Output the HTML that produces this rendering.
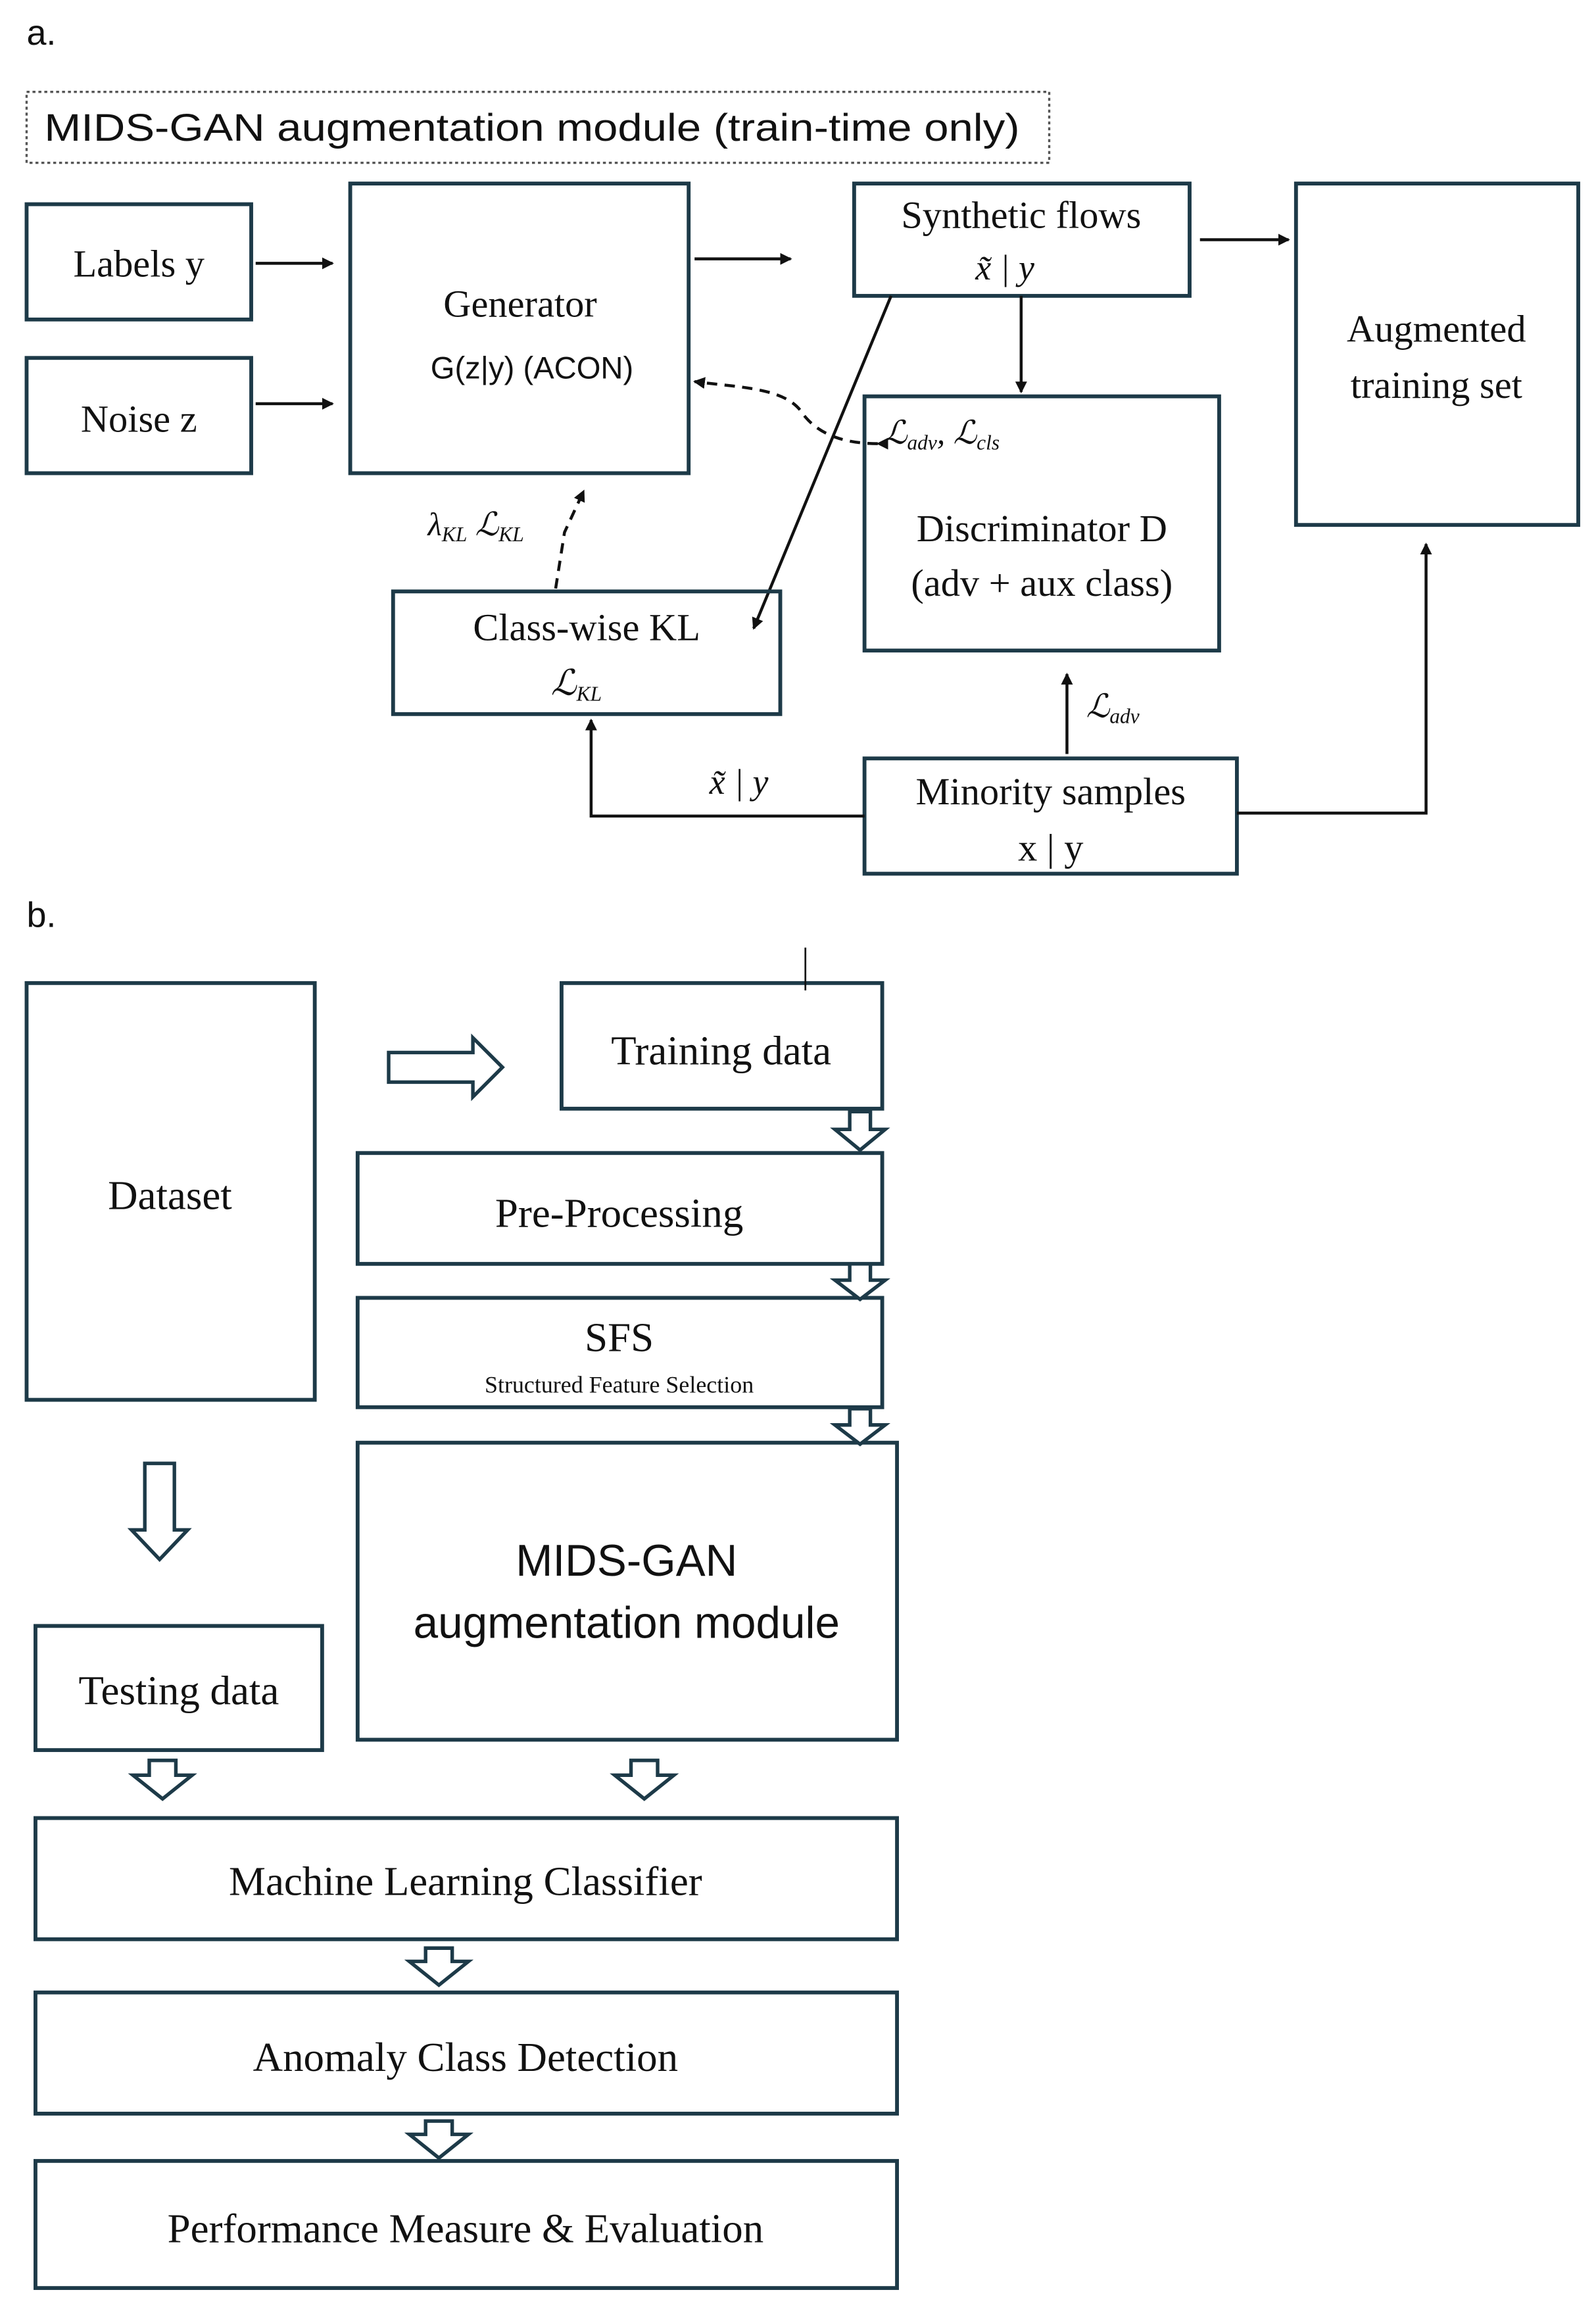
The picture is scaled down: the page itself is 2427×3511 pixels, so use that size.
<!DOCTYPE html>
<html><head><meta charset="utf-8"><style>
html,body{margin:0;padding:0;background:#fff;}
svg{display:block;}
.b{fill:none;stroke:#1d3a48;stroke-width:2.6;}
.s{font-family:"Liberation Serif",serif;fill:#111;text-anchor:middle;}
.st{font-family:"Liberation Serif",serif;fill:#111;text-anchor:start;}
.a{font-family:"Liberation Sans",sans-serif;fill:#111;}
.l{stroke:#111;stroke-width:2;fill:none;}
.h{fill:#fff;stroke:#1d3a48;stroke-width:2.4;}
</style></head><body>
<svg width="2427" height="3511" viewBox="0 0 1080 1562" xmlns="http://www.w3.org/2000/svg">
<defs><marker id="ar" markerWidth="8" markerHeight="8" refX="7" refY="4" orient="auto" markerUnits="userSpaceOnUse"><path d="M0,0 L8,4 L0,8 z" fill="#111"/></marker></defs>
<text x="18" y="30" class="a" font-size="24">a.</text>
<rect x="18" y="62" width="692" height="48" fill="none" stroke="#555" stroke-width="1.5" stroke-dasharray="2,2"/>
<text x="30" y="95" class="a" font-size="26" textLength="660" lengthAdjust="spacingAndGlyphs">MIDS-GAN augmentation module (train-time only)</text>
<rect x="18" y="138" width="152" height="78" class="b"/><text x="94" y="187" class="s" font-size="26">Labels y</text>
<rect x="18" y="242" width="152" height="78" class="b"/><text x="94" y="292" class="s" font-size="26">Noise z</text>
<rect x="237" y="124" width="229" height="196" class="b"/>
<text x="352" y="214" class="s" font-size="26">Generator</text>
<text x="360" y="256" class="a" font-size="21" text-anchor="middle">G(z|y) (ACON)</text>
<line x1="173" y1="178" x2="225" y2="178" class="l" marker-end="url(#ar)"/>
<line x1="173" y1="273" x2="225" y2="273" class="l" marker-end="url(#ar)"/>
<line x1="470" y1="175" x2="535" y2="175" class="l" marker-end="url(#ar)"/>
<rect x="578" y="124" width="227" height="76" class="b"/>
<text x="691" y="154" class="s" font-size="26">Synthetic flows</text>
<text x="680" y="189" class="s" font-size="24" font-style="italic">x̃ | y</text>
<line x1="812" y1="162" x2="872" y2="162" class="l" marker-end="url(#ar)"/>
<rect x="877" y="124" width="191" height="231" class="b"/>
<text x="972" y="231" class="s" font-size="26">Augmented</text>
<text x="972" y="269" class="s" font-size="26">training set</text>
<line x1="691" y1="200" x2="691" y2="265" class="l" marker-end="url(#ar)"/>
<rect x="585" y="268" width="240" height="172" class="b"/>
<text x="598" y="300" class="st" font-size="22" font-style="italic">ℒ<tspan font-size="14" dy="4">adv</tspan><tspan dy="-4">, ℒ</tspan><tspan font-size="14" dy="4">cls</tspan></text>
<text x="705" y="366" class="s" font-size="26">Discriminator D</text>
<text x="705" y="403" class="s" font-size="26">(adv + aux class)</text>
<path d="M594,300 C565,300 550,290 542,278 C530,262 500,262 470,258" class="l" stroke-dasharray="7,5" marker-end="url(#ar)" marker-start="url(#ar)"/>
<line x1="603" y1="200" x2="510" y2="425" class="l" marker-end="url(#ar)"/>
<rect x="266" y="400" width="262" height="83" class="b"/>
<text x="397" y="433" class="s" font-size="26">Class-wise KL</text>
<text x="390" y="470" class="s" font-size="24" font-style="italic">ℒ<tspan font-size="14" dy="4">KL</tspan></text>
<path d="M376,398 L382,360 L395,332" class="l" stroke-dasharray="7,5" marker-end="url(#ar)"/>
<text x="322" y="362" class="s" font-size="22" font-style="italic">λ<tspan font-size="14" dy="4">KL</tspan><tspan dy="-4"> ℒ</tspan><tspan font-size="14" dy="4">KL</tspan></text>
<rect x="585" y="513" width="252" height="78" class="b"/>
<text x="711" y="544" class="s" font-size="26">Minority samples</text>
<text x="711" y="582" class="s" font-size="26">x | y</text>
<line x1="722" y1="510" x2="722" y2="456" class="l" marker-end="url(#ar)"/>
<text x="735" y="485" class="st" font-size="22" font-style="italic">ℒ<tspan font-size="14" dy="4">adv</tspan></text>
<polyline points="585,552 400,552 400,487" class="l" marker-end="url(#ar)"/>
<text x="500" y="537" class="s" font-size="24" font-style="italic">x̃ | y</text>
<polyline points="837,550 965,550 965,368" class="l" marker-end="url(#ar)"/>

<text x="18" y="627" class="a" font-size="24">b.</text>
<rect x="18" y="665" width="195" height="282" class="b"/><text x="115" y="818" class="s" font-size="28">Dataset</text>
<path d="M263,712 L320,712 L320,702 L340,722 L320,742 L320,732 L263,732 z" class="h"/>
<rect x="380" y="665" width="217" height="85" class="b"/><text x="488" y="720" class="s" font-size="28">Training data</text>
<line x1="545" y1="641" x2="545" y2="670" stroke="#111" stroke-width="1.2"/>
<rect x="242" y="780" width="355" height="75" class="b"/><text x="419" y="830" class="s" font-size="28">Pre-Processing</text>
<rect x="242" y="878" width="355" height="74" class="b"/><text x="419" y="914" class="s" font-size="28">SFS</text>
<text x="419" y="942" class="s" font-size="16">Structured Feature Selection</text>
<rect x="242" y="976" width="365" height="201" class="b"/>
<text x="424" y="1066" class="a" font-size="30" text-anchor="middle">MIDS-GAN</text>
<text x="424" y="1108" class="a" font-size="30" text-anchor="middle">augmentation module</text>
<rect x="24" y="1100" width="194" height="84" class="b"/><text x="121" y="1153" class="s" font-size="28">Testing data</text>
<rect x="24" y="1230" width="583" height="82" class="b"/><text x="315" y="1282" class="s" font-size="28">Machine Learning Classifier</text>
<rect x="24" y="1348" width="583" height="82" class="b"/><text x="315" y="1401" class="s" font-size="28">Anomaly Class Detection</text>
<rect x="24" y="1462" width="583" height="86" class="b"/><text x="315" y="1517" class="s" font-size="28">Performance Measure &amp; Evaluation</text>
<path d="M98,990 L118,990 L118,1035 L127,1035 L108,1055 L89,1035 L98,1035 z" class="h"/>
<path d="M575,752 L589,752 L589,764 L599,764 L582,778 L565,764 L575,764 z" class="h"/>
<path d="M575,855 L589,855 L589,866 L599,866 L582,879 L565,866 L575,866 z" class="h"/>
<path d="M575,953 L589,953 L589,964 L599,964 L582,977 L565,964 L575,964 z" class="h"/>
<path d="M101,1191 L119,1191 L119,1201 L130,1201 L110,1217 L90,1201 L101,1201 z" class="h"/>
<path d="M427,1191 L445,1191 L445,1201 L456,1201 L436,1217 L416,1201 L427,1201 z" class="h"/>
<path d="M288,1318 L306,1318 L306,1327 L317,1327 L297,1343 L277,1327 L288,1327 z" class="h"/>
<path d="M288,1435 L306,1435 L306,1444 L317,1444 L297,1460 L277,1444 L288,1444 z" class="h"/>
</svg>
</body></html>
